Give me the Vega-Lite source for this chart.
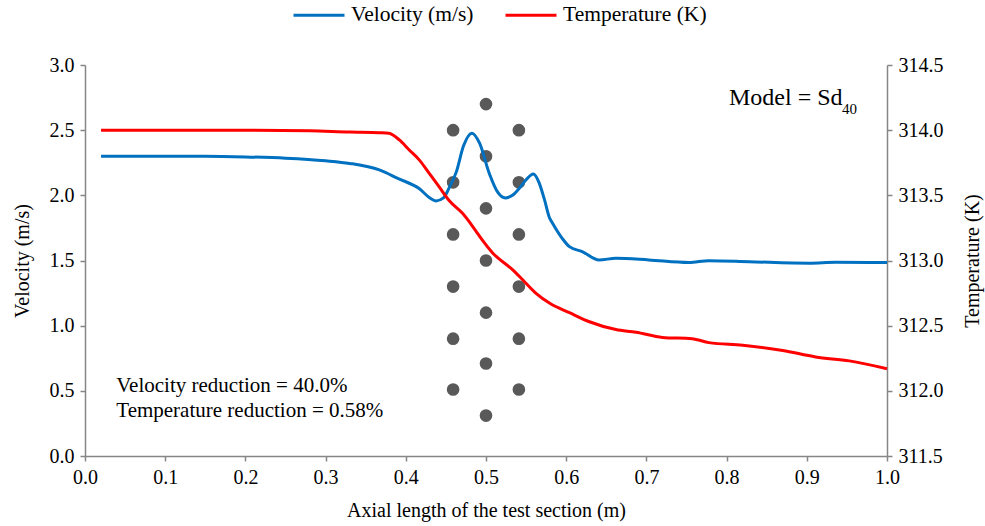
{
  "$schema": "https://vega.github.io/schema/vega-lite/v6.json",
  "width": 802,
  "height": 391,
  "autosize": "none",
  "padding": {"left": 85, "top": 65, "right": 98, "bottom": 70},
  "background": "white",
  "config": {
    "view": {"stroke": null},
    "font": "Liberation Serif, Times New Roman, serif",
    "text": {"font": "Liberation Serif, Times New Roman, serif"},
    "axis": {
      "grid": false,
      "domainColor": "#868686",
      "domainWidth": 1.5,
      "tickColor": "#868686",
      "tickWidth": 1.5,
      "tickSize": 5,
      "labelFont": "Liberation Serif, Times New Roman, serif",
      "labelFontSize": 20,
      "labelColor": "#000000",
      "titleFont": "Liberation Serif, Times New Roman, serif",
      "titleFontSize": 20,
      "titleFontWeight": "normal",
      "titleColor": "#000000",
      "labelPadding": 6
    },
    "legend": {
      "labelFont": "Liberation Serif, Times New Roman, serif",
      "labelFontSize": 21.5,
      "labelColor": "#000000"
    }
  },
  "datasets": {
    "vel": [
      {"x": 0.02, "v": 2.30}, {"x": 0.05, "v": 2.30}, {"x": 0.10, "v": 2.30}, {"x": 0.15, "v": 2.30},
      {"x": 0.20, "v": 2.295}, {"x": 0.25, "v": 2.285}, {"x": 0.30, "v": 2.265}, {"x": 0.33, "v": 2.245},
      {"x": 0.367, "v": 2.195}, {"x": 0.39, "v": 2.13}, {"x": 0.417, "v": 2.05}, {"x": 0.43, "v": 1.98},
      {"x": 0.4376, "v": 1.957}, {"x": 0.447, "v": 1.98}, {"x": 0.455, "v": 2.07}, {"x": 0.463, "v": 2.18},
      {"x": 0.472, "v": 2.38}, {"x": 0.4825, "v": 2.477}, {"x": 0.492, "v": 2.40}, {"x": 0.504, "v": 2.17},
      {"x": 0.515, "v": 2.02}, {"x": 0.524, "v": 1.98}, {"x": 0.533, "v": 2.00}, {"x": 0.541, "v": 2.05},
      {"x": 0.55, "v": 2.12}, {"x": 0.559, "v": 2.164}, {"x": 0.566, "v": 2.10}, {"x": 0.573, "v": 1.965},
      {"x": 0.579, "v": 1.83}, {"x": 0.583, "v": 1.786}, {"x": 0.595, "v": 1.67}, {"x": 0.604, "v": 1.606},
      {"x": 0.620, "v": 1.568}, {"x": 0.641, "v": 1.504}, {"x": 0.662, "v": 1.517}, {"x": 0.703, "v": 1.504},
      {"x": 0.753, "v": 1.484}, {"x": 0.778, "v": 1.499}, {"x": 0.828, "v": 1.491}, {"x": 0.903, "v": 1.479},
      {"x": 0.936, "v": 1.486}, {"x": 1.0, "v": 1.484}
    ],
    "temp": [
      {"x": 0.02, "t": 314.0}, {"x": 0.1, "t": 314.0}, {"x": 0.2, "t": 314.0}, {"x": 0.28, "t": 313.995},
      {"x": 0.33, "t": 313.985}, {"x": 0.367, "t": 313.98}, {"x": 0.379, "t": 313.976}, {"x": 0.392, "t": 313.925},
      {"x": 0.404, "t": 313.85}, {"x": 0.417, "t": 313.77}, {"x": 0.429, "t": 313.67}, {"x": 0.441, "t": 313.57},
      {"x": 0.454, "t": 313.46}, {"x": 0.471, "t": 313.36}, {"x": 0.487, "t": 313.23}, {"x": 0.495, "t": 313.16},
      {"x": 0.508, "t": 313.06}, {"x": 0.533, "t": 312.93}, {"x": 0.546, "t": 312.85}, {"x": 0.562, "t": 312.75},
      {"x": 0.58, "t": 312.67}, {"x": 0.604, "t": 312.60}, {"x": 0.629, "t": 312.53}, {"x": 0.662, "t": 312.47},
      {"x": 0.687, "t": 312.45}, {"x": 0.72, "t": 312.41}, {"x": 0.757, "t": 312.40}, {"x": 0.778, "t": 312.37},
      {"x": 0.82, "t": 312.35}, {"x": 0.87, "t": 312.31}, {"x": 0.911, "t": 312.26}, {"x": 0.953, "t": 312.23},
      {"x": 1.0, "t": 312.17}
    ],
    "dots": [
      {"x": 0.459, "v": 2.50}, {"x": 0.459, "v": 2.10}, {"x": 0.459, "v": 1.70}, {"x": 0.459, "v": 1.30}, {"x": 0.459, "v": 0.90}, {"x": 0.459, "v": 0.51},
      {"x": 0.500, "v": 2.70}, {"x": 0.500, "v": 2.30}, {"x": 0.500, "v": 1.90}, {"x": 0.500, "v": 1.50}, {"x": 0.500, "v": 1.10}, {"x": 0.500, "v": 0.71}, {"x": 0.500, "v": 0.31},
      {"x": 0.541, "v": 2.50}, {"x": 0.541, "v": 2.10}, {"x": 0.541, "v": 1.70}, {"x": 0.541, "v": 1.30}, {"x": 0.541, "v": 0.90}, {"x": 0.541, "v": 0.51}
    ],
    "model": [
      {"x": 0.803, "v": 2.694, "label": "Model = Sd"}
    ],
    "notes": [
      {"x": 0.039, "v": 0.49, "label": "Velocity reduction = 40.0%"},
      {"x": 0.039, "v": 0.30, "label": "Temperature reduction = 0.58%"}
    ],
    "sub": [
      {"x": 0.944, "v": 2.625, "label": "40"}
    ]
  },
  "layer": [
    {
      "encoding": {
        "x": {
          "field": "x", "type": "quantitative",
          "scale": {"domain": [0, 1], "nice": false},
          "axis": {"values": [0, 0.1, 0.2, 0.3, 0.4, 0.5, 0.6, 0.7, 0.8, 0.9, 1.0], "format": ".1f", "title": "Axial length of the test section (m)", "titlePadding": 13, "labelFlush": false}
        },
        "y": {
          "field": "v", "type": "quantitative",
          "scale": {"domain": [0, 3], "nice": false},
          "axis": {"values": [0, 0.5, 1, 1.5, 2, 2.5, 3], "format": ".1f", "title": "Velocity (m/s)", "titlePadding": 17}
        }
      },
      "layer": [
        {
          "data": {"name": "dots"},
          "mark": {"type": "circle", "color": "#595959", "opacity": 1, "size": 160}
        },
        {
          "data": {"name": "vel"},
          "mark": {"type": "line", "strokeWidth": 3, "interpolate": "monotone"},
          "encoding": {
            "color": {
              "datum": "Velocity (m/s)",
              "scale": {"domain": ["Velocity (m/s)", "Temperature (K)"], "range": ["#0070C0", "#FF0000"]},
              "legend": {
                "title": null,
                "orient": "none",
                "legendX": 207,
                "legendY": -77,
                "direction": "horizontal",
                "symbolType": "stroke",
                "symbolStrokeWidth": 3,
                "symbolSize": 2600,
                "labelOffset": 5,
                "columnPadding": 25
              }
            }
          }
        },
        {
          "data": {"name": "model"},
          "mark": {"type": "text", "align": "left", "baseline": "alphabetic", "fontSize": 24, "color": "#000000"},
          "encoding": {"text": {"field": "label"}}
        },
        {
          "data": {"name": "notes"},
          "mark": {"type": "text", "align": "left", "baseline": "alphabetic", "fontSize": 21, "color": "#000000"},
          "encoding": {"text": {"field": "label"}}
        },
        {
          "data": {"name": "sub"},
          "mark": {"type": "text", "align": "left", "baseline": "alphabetic", "fontSize": 15, "color": "#000000"},
          "encoding": {"text": {"field": "label"}}
        }
      ]
    },
    {
      "data": {"name": "temp"},
      "mark": {"type": "line", "strokeWidth": 3, "interpolate": "monotone"},
      "encoding": {
        "x": {"field": "x", "type": "quantitative"},
        "y": {
          "field": "t", "type": "quantitative",
          "scale": {"domain": [311.5, 314.5], "nice": false, "zero": false},
          "axis": {"orient": "right", "values": [311.5, 312, 312.5, 313, 313.5, 314, 314.5], "format": ".1f", "title": "Temperature (K)", "titleAngle": 270, "titlePadding": 39}
        },
        "color": {"datum": "Temperature (K)"}
      }
    }
  ],
  "resolve": {"scale": {"y": "independent"}}
}
